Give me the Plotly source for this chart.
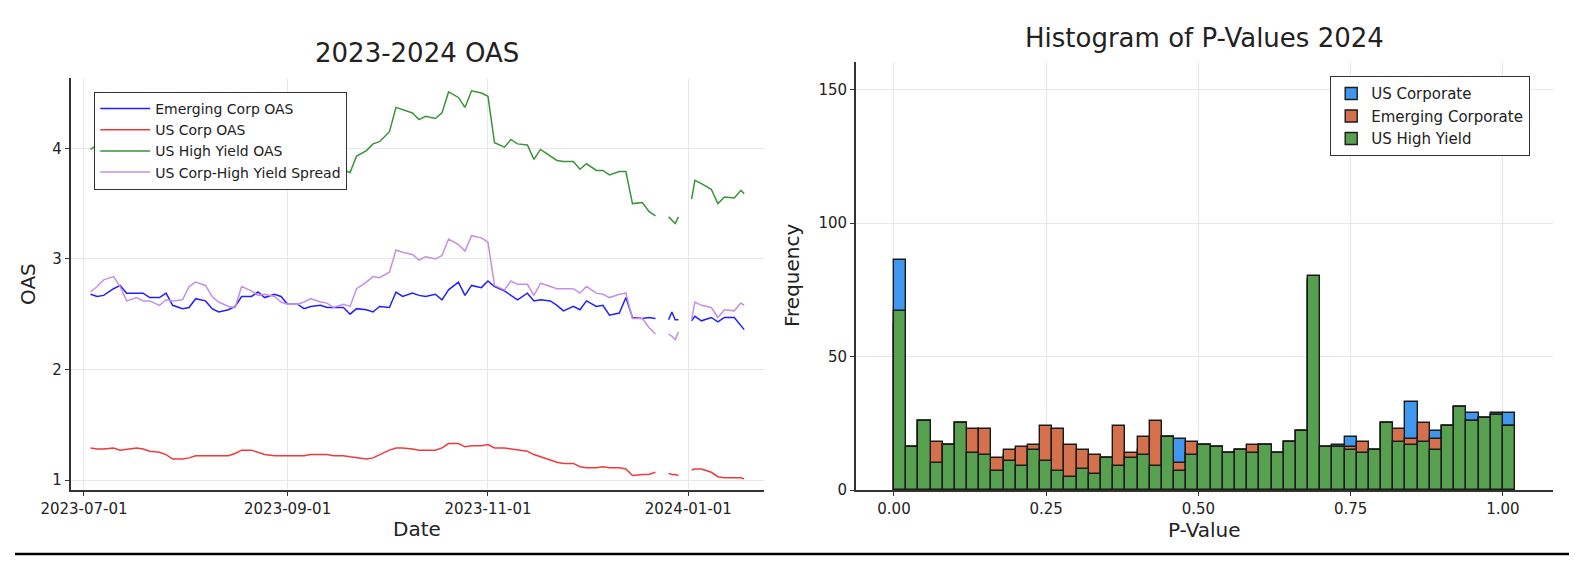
import plotly.graph_objects as go

# ---------------- data: left chart (OAS time series) ----------------
jul = [3, 5, 7, 10, 12, 14, 17, 19, 21, 24, 26, 28, 31]
aug = [2, 4, 7, 9, 11, 14, 16, 18, 21, 23, 25, 28, 30]
sep = [1, 4, 6, 8, 11, 13, 15, 18, 20, 22, 25, 27, 29]
octo = [2, 4, 6, 9, 11, 13, 16, 18, 20, 23, 25, 27, 30]
nov = [1, 3, 6, 8, 10, 13, 15, 17, 20, 22, 24, 27, 29]
dec = [1, 4, 6, 8, 11, 13, 15, 18, 20, 22, 25, 26, 27, 28, 29]
jan = [1, 2, 3, 5, 8, 10, 12, 15, 17, 18]

dates = ([f"2023-07-{d:02d}" for d in jul] + [f"2023-08-{d:02d}" for d in aug] +
         [f"2023-09-{d:02d}" for d in sep] + [f"2023-10-{d:02d}" for d in octo] +
         [f"2023-11-{d:02d}" for d in nov] + [f"2023-12-{d:02d}" for d in dec] +
         [f"2024-01-{d:02d}" for d in jan])

emerging_corp = [
    2.68, 2.66, 2.67, 2.73, 2.76, 2.69, 2.69, 2.69, 2.65, 2.65, 2.69, 2.58, 2.55,
    2.56, 2.64, 2.62, 2.55, 2.52, 2.54, 2.57, 2.66, 2.66, 2.70, 2.65, 2.68, 2.66,
    2.59, 2.59, 2.55, 2.57, 2.58, 2.56, 2.56, 2.56, 2.50, 2.55, 2.54, 2.52, 2.57,
    2.56, 2.70, 2.66, 2.69, 2.67, 2.66, 2.68, 2.63, 2.72, 2.79, 2.67, 2.76, 2.74,
    2.80, 2.75, 2.71, 2.67, 2.63, 2.69, 2.62, 2.63, 2.62, 2.58, 2.53, 2.57, 2.54,
    2.62, 2.57, 2.58, 2.49, 2.51, 2.65, 2.47, 2.46, 2.47, 2.46, None, 2.45, 2.52, 2.45, 2.45,
    None, 2.44, 2.48, 2.44, 2.47, 2.43, 2.47, 2.47, 2.39, 2.36]

us_corp = [
    1.29, 1.28, 1.28, 1.29, 1.27, 1.28, 1.29, 1.28, 1.26, 1.25, 1.23, 1.19, 1.19,
    1.20, 1.22, 1.22, 1.22, 1.22, 1.22, 1.24, 1.27, 1.27, 1.25, 1.23, 1.22, 1.22,
    1.22, 1.22, 1.22, 1.23, 1.23, 1.23, 1.22, 1.22, 1.21, 1.20, 1.19, 1.20, 1.23,
    1.27, 1.29, 1.29, 1.28, 1.27, 1.27, 1.27, 1.29, 1.33, 1.33, 1.30, 1.31, 1.31,
    1.32, 1.29, 1.29, 1.28, 1.27, 1.26, 1.23, 1.21, 1.18, 1.16, 1.15, 1.15, 1.12,
    1.11, 1.11, 1.12, 1.11, 1.11, 1.10, 1.04, 1.05, 1.05, 1.07, None, 1.06, 1.05, 1.05, 1.04,
    None, 1.09, 1.10, 1.10, 1.07, 1.03, 1.02, 1.02, 1.02, 1.01]

us_high_yield = [
    3.99, 4.03, 4.09, 4.13, 4.02, 3.90, 3.94, 3.90, 3.88, 3.83, 3.86, 3.81, 3.82,
    3.95, 4.01, 3.98, 3.88, 3.83, 3.79, 3.80, 4.02, 3.98, 3.92, 3.91, 3.88, 3.83,
    3.81, 3.81, 3.83, 3.87, 3.84, 3.83, 3.78, 3.81, 3.78, 3.93, 3.98, 4.04, 4.06,
    4.15, 4.37, 4.35, 4.32, 4.26, 4.29, 4.27, 4.32, 4.51, 4.46, 4.37, 4.52, 4.50,
    4.47, 4.05, 4.01, 4.08, 4.04, 4.03, 3.90, 3.99, 3.93, 3.89, 3.88, 3.88, 3.81,
    3.86, 3.80, 3.80, 3.76, 3.79, 3.79, 3.50, 3.51, 3.43, 3.39, None, 3.38, 3.35, 3.32, 3.38,
    None, 3.54, 3.71, 3.68, 3.63, 3.50, 3.56, 3.55, 3.62, 3.59]

# the spread series is, by definition, High Yield OAS minus US Corp OAS
corp_hy_spread = [None if (h is None or c is None) else round(h - c, 2)
                  for h, c in zip(us_high_yield, us_corp)]

# ---------------- data: right chart (histogram bin counts) ----------------
bin_width = 0.02
bin_left = [round(i * bin_width, 2) for i in range(51)]

us_corporate_counts = [
    86, 16, 26, 12, 17, 25, 16, 15, 9, 13, 12, 16, 15, 10, 8, 10, 9, 12, 12, 13,
    15, 12, 20, 19, 14, 17, 16, 14, 15, 15, 17, 14, 18, 22, 79, 16, 17, 20, 15, 15,
    25, 19, 33, 20, 22, 24, 31, 29, 27, 29, 29]
emerging_corporate_counts = [
    62, 16, 26, 18, 17, 25, 23, 23, 12, 15, 16, 17, 24, 23, 17, 15, 13, 12, 24, 14,
    20, 26, 20, 10, 18, 17, 16, 14, 15, 17, 17, 14, 18, 22, 78, 16, 16, 16, 18, 15,
    25, 23, 19, 25, 19, 24, 31, 26, 27, 28, 24]
us_high_yield_counts = [
    67, 16, 26, 10, 17, 25, 14, 13, 7, 11, 9, 15, 11, 7, 5, 8, 6, 12, 9, 12,
    13, 9, 20, 7, 13, 17, 16, 14, 15, 14, 17, 14, 18, 22, 80, 16, 16, 15, 14, 15,
    25, 18, 17, 18, 15, 24, 31, 26, 27, 28, 24]

# ---------------- styling / layout helpers ----------------
W, H = 1592, 584
FONT = "DejaVu Sans"
TXT = "#222222"
GRID = "#e8e8e8"
AX = "#333333"


def fx(p):
    return p / W


def fy(p):
    return 1 - p / H


fig = go.Figure()

line_series = [
    ("Emerging Corp OAS", emerging_corp, "#2020ff"),
    ("US Corp OAS", us_corp, "#f03a3a"),
    ("US High Yield OAS", us_high_yield, "#3a933a"),
    ("US Corp-High Yield Spread", corp_hy_spread, "#c590e2"),
]
for name, ys, col in line_series:
    fig.add_trace(go.Scatter(
        x=dates, y=ys, mode="lines", name=name, connectgaps=False,
        line=dict(color=col, width=1.5), xaxis="x", yaxis="y", legend="legend"))

bin_centers = [b + bin_width / 2 for b in bin_left]
hist_series = [
    ("US Corporate", us_corporate_counts, "#3f97ee"),
    ("Emerging Corporate", emerging_corporate_counts, "#d4704b"),
    ("US High Yield", us_high_yield_counts, "#56a04f"),
]
for name, counts, col in hist_series:
    fig.add_trace(go.Bar(
        x=bin_centers, y=counts, width=bin_width, name=name,
        marker=dict(color=col, line=dict(color="#1a1a1a", width=1.4)),
        xaxis="x2", yaxis="y2", legend="legend2"))

axis_common = dict(
    showgrid=True, gridcolor=GRID, gridwidth=1, zeroline=False,
    showline=True, linecolor=AX, linewidth=1.8, mirror=False,
    ticks="outside", ticklen=4, tickwidth=1.2, tickcolor=AX,
    automargin=False,
    tickfont=dict(family=FONT, size=15, color=TXT),
)

fig.update_layout(
    width=W, height=H,
    margin=dict(l=0, r=0, t=0, b=0, pad=0, autoexpand=False),
    paper_bgcolor="white", plot_bgcolor="white",
    font=dict(family=FONT, color=TXT),
    barmode="overlay", bargap=0,
    xaxis=dict(
        domain=[fx(70.7), fx(764)], anchor="y", type="date",
        range=["2023-06-26 23:00", "2024-01-24 01:00"],
        tickvals=["2023-07-01", "2023-09-01", "2023-11-01", "2024-01-01"],
        ticktext=["2023-07-01", "2023-09-01", "2023-11-01", "2024-01-01"],
        **axis_common),
    yaxis=dict(
        domain=[fy(490), fy(78)], anchor="x", range=[0.9096, 4.636],
        tickvals=[1, 2, 3, 4], **axis_common),
    xaxis2=dict(
        domain=[fx(856), fx(1553)], anchor="y2", range=[-0.0624, 1.0823],
        tickvals=[0, 0.25, 0.5, 0.75, 1.0],
        ticktext=["0.00", "0.25", "0.50", "0.75", "1.00"], **axis_common),
    yaxis2=dict(
        domain=[fy(490), fy(62)], anchor="x2", range=[0, 160.3],
        tickvals=[0, 50, 100, 150], **axis_common),
    legend=dict(
        x=fx(94), y=fy(91.7), xanchor="left", yanchor="top",
        bgcolor="white", bordercolor=AX, borderwidth=1.2, itemwidth=50,
        font=dict(family=FONT, size=14, color=TXT), tracegroupgap=0),
    legend2=dict(
        x=fx(1530), y=fy(76), xanchor="right", yanchor="top",
        bgcolor="white", bordercolor=AX, borderwidth=1.2,
        font=dict(family=FONT, size=15, color=TXT), tracegroupgap=0),
    showlegend=True,
)

annotations = [
    dict(text="2023-2024 OAS", x=fx(417), y=fy(53), size=26, angle=0),
    dict(text="Histogram of P-Values 2024", x=fx(1204), y=fy(37.6), size=26, angle=0),
    dict(text="Date", x=fx(417), y=fy(529), size=20, angle=0),
    dict(text="P-Value", x=fx(1204), y=fy(530), size=20, angle=0),
    dict(text="OAS", x=fx(28), y=fy(284), size=20, angle=-90),
    dict(text="Frequency", x=fx(792), y=fy(276), size=20, angle=-90),
]
for a in annotations:
    fig.add_annotation(
        text=a["text"], x=a["x"], y=a["y"], xref="paper", yref="paper",
        xanchor="center", yanchor="middle", showarrow=False, textangle=a["angle"],
        font=dict(family=FONT, size=a["size"], color=TXT))

# horizontal rule under the two panels
fig.add_shape(type="line", xref="paper", yref="paper",
              x0=fx(15), x1=fx(1569), y0=fy(554), y1=fy(554),
              line=dict(color="#000000", width=2.5))

fig.write_html("out.html")
